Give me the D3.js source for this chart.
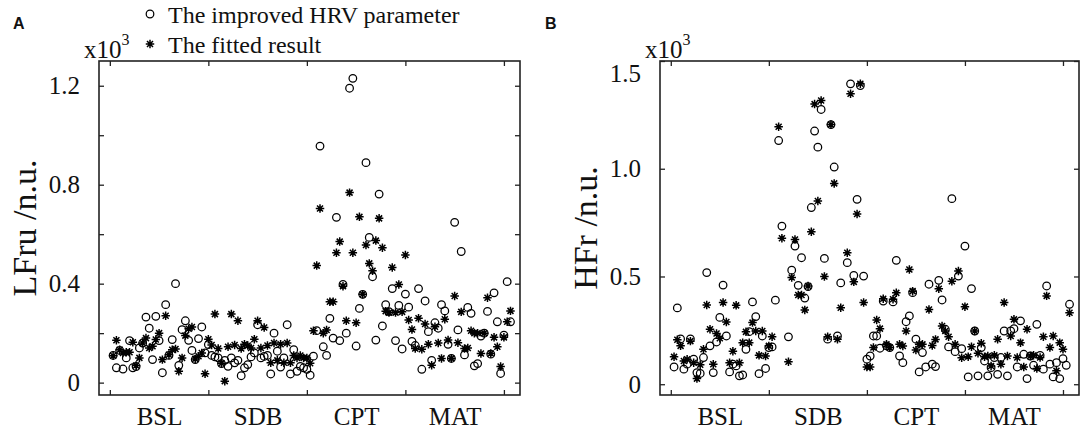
<!DOCTYPE html>
<html>
<head>
<meta charset="utf-8">
<script src="https://cdn.jsdelivr.net/npm/d3@7"></script>
<style>
  body { margin: 0; background: #fff; }
  svg { display: block; }
  text { font-family: "Liberation Serif", "Times New Roman", serif; fill: #111; }
</style>
</head>
<body>
<div id="chart"></div>
<script>
// groups along the x axis (30 samples each, last group a few more)
const groups = ["BSL", "SDB", "CPT", "MAT"];
const groupTicks = [1, 31, 61, 91, 121];
const groupCenters = [16, 46, 76, 106];

// panel A - LFru (x10^3)
const lfImproved = [
  null, 0.11, 0.06, 0.13, 0.055, 0.10, 0.17, 0.06, 0.065, 0.14, 0.16, 0.265, 0.22, 0.093, 0.268, 0.17, 0.04, 0.315, 0.11, 0.174, 0.40, 0.07, 0.214, 0.25, 0.171, 0.13, 0.093, 0.178, 0.225, 0.12,
  0.154, 0.11, 0.104, 0.10, 0.077, 0.09, 0.066, 0.10, 0.08, 0.09, 0.028, 0.06, 0.073, 0.104, 0.12, 0.234, 0.10, 0.106, 0.11, 0.035, 0.20, 0.127, 0.063, 0.10, 0.234, 0.035, 0.133, 0.046, 0.066, 0.06,
  0.054, 0.03, 0.107, 0.21, 0.956, 0.145, 0.11, 0.26, 0.18, 0.668, 0.17, 0.397, 0.20, 1.19, 1.23, 0.148, 0.30, 0.357, 0.889, 0.587, 0.428, 0.172, 0.762, 0.229, 0.315, 0.287, 0.38, 0.17, 0.312, 0.136,
  0.358, 0.305, 0.167, 0.15, 0.38, 0.054, 0.33, 0.206, 0.09, 0.242, 0.22, 0.315, 0.29, 0.155, 0.098, 0.648, 0.213, 0.53, 0.112, 0.304, 0.28, 0.068, 0.077, 0.188, 0.20, 0.288, 0.115, 0.363, 0.246, 0.037, 0.192, 0.408, 0.246
];
const lfFitted = [
  null, 0.109, 0.171, 0.133, 0.12, 0.123, 0.123, 0.163, 0.069, 0.10, 0.16, 0.18, 0.14, 0.147, 0.174, 0.20, 0.093, 0.27, 0.113, 0.133, 0.136, 0.046, 0.10, 0.19, 0.218, 0.225, 0.096, 0.107, 0.12, 0.036,
  0.175, 0.152, 0.277, 0.138, 0.078, 0.006, 0.145, 0.277, 0.152, 0.25, 0.138, 0.155, 0.15, 0.14, 0.175, 0.25, 0.14, 0.223, 0.15, 0.08, 0.16, 0.09, 0.155, 0.08, 0.16, 0.08, 0.11, 0.10, 0.11, 0.10,
  0.10, 0.078, 0.21, 0.473, 0.704, 0.20, 0.213, 0.327, 0.327, 0.525, 0.57, 0.39, 0.25, 0.768, 0.525, 0.242, 0.67, 0.357, 0.556, 0.482, 0.452, 0.574, 0.664, 0.545, 0.289, 0.283, 0.465, 0.283, 0.397, 0.286,
  0.516, 0.253, 0.215, 0.138, 0.26, 0.135, 0.237, 0.155, 0.07, 0.226, 0.16, 0.098, 0.256, 0.172, 0.098, 0.35, 0.161, 0.286, 0.138, 0.14, 0.21, 0.20, 0.20, 0.118, 0.20, 0.343, 0.118, 0.183, 0.145, 0.065, 0.183, 0.246, 0.29
];

// panel B - HFr (x10^3)
const hfImproved = [
  null, 0.08, 0.354, 0.21, 0.07, 0.093, 0.21, 0.116, 0.054, 0.05, 0.124, 0.518, 0.178, 0.054, 0.196, 0.31, 0.46, 0.224, 0.057, 0.093, 0.085, 0.039, 0.043, 0.162, 0.244, 0.382, 0.314, 0.049, 0.224, 0.073,
  0.17, 0.173, 0.39, 1.131, 0.734, null, 0.22, 0.529, 0.641, 0.459, 0.587, 0.40, 0.453, 0.82, 1.175, 1.10, 1.275, 0.584, 0.209, 1.205, 1.008, 0.224, 0.47, null, 0.564, 1.394, 0.505, 0.858, 1.386, 0.502,
  0.116, 0.131, 0.224, 0.224, 0.167, 0.386, 0.178, 0.17, 0.382, 0.575, 0.131, 0.10, 0.29, 0.317, 0.425, 0.209, 0.057, 0.147, 0.08, 0.464, 0.093, 0.082, 0.482, 0.391, 0.255, 0.173, 0.861, 0.151, 0.502, 0.165,
  0.641, 0.034, 0.444, 0.247, 0.039, 0.17, 0.108, 0.039, 0.077, 0.124, 0.046, 0.124, 0.247, 0.039, 0.247, 0.258, 0.08, 0.294, 0.139, 0.026, 0.131, 0.088, 0.278, 0.134, 0.07, 0.456, 0.093, 0.034, 0.10, 0.026, 0.119, 0.088, 0.371
];
const hfFitted = [
  null, 0.127, 0.206, 0.178, 0.108, 0.116, 0.20, 0.10, 0.026, 0.09, 0.162, 0.368, 0.255, 0.093, 0.235, 0.213, 0.379, 0.289, 0.10, 0.153, 0.366, 0.10, 0.193, 0.243, 0.193, 0.286, 0.247, 0.134, 0.247, 0.131,
  0.178, 0.22, null, 1.195, 0.677, null, 0.104, 0.495, 0.672, 0.414, 0.414, 0.345, 0.456, 0.708, 1.30, 0.85, 1.317, 0.50, 0.22, 1.205, 0.932, 0.209, 0.355, null, 0.61, 1.348, 0.475, 0.79, 1.394, 0.379,
  0.08, 0.08, 0.17, 0.298, 0.258, 0.397, 0.185, 0.17, 0.394, 0.424, 0.185, 0.177, 0.247, 0.532, 0.432, 0.159, 0.185, 0.185, null, 0.347, 0.18, 0.208, 0.443, 0.27, 0.247, 0.22, 0.478, 0.185, 0.525, 0.123,
  0.36, 0.128, 0.174, 0.247, 0.144, 0.19, 0.128, 0.131, 0.085, 0.134, 0.209, 0.093, 0.379, 0.131, 0.224, 0.301, 0.124, 0.193, 0.08, 0.255, 0.131, 0.134, 0.073, 0.124, 0.22, 0.41, 0.17, 0.224, 0.062, 0.193, 0.162, null, 0.332
];

const yTicksA = [0, 0.2, 0.4, 0.6, 0.8, 1.0, 1.2];
const yLabelsA = ["0", "", "0.4", "", "0.8", "", "1.2"];
const yTicksB = [0, 0.5, 1.0, 1.5];
const yLabelsB = ["0", "0.5", "1.0", "1.5"];

const legendItems = ["The improved HRV parameter", "The fitted result"];

const width = 1084;
const height = 431;
const plotTop = 61, plotBottom = 395;

const svg = d3.select("#chart")
  .append("svg")
  .attr("width", width)
  .attr("height", height);

// matlab style '*' marker: plus + cross
const asterisk = {
  draw(ctx, size) {
    const r = Math.sqrt(size) / 2;
    const d = r * Math.SQRT1_2;
    ctx.moveTo(-r, 0); ctx.lineTo(r, 0);
    ctx.moveTo(0, -r); ctx.lineTo(0, r);
    ctx.moveTo(-d, -d); ctx.lineTo(d, d);
    ctx.moveTo(-d, d); ctx.lineTo(d, -d);
  }
};
const starPath = d3.symbol().type(asterisk).size(72)();

function drawPanel(cfg) {
  const x = d3.scaleLinear().domain([-2.3, 125.9]).range([cfg.left, cfg.right]);
  const y = d3.scaleLinear().domain(cfg.yDomain).range([plotBottom, plotTop]);
  const g = svg.append("g");

  const fmt = d => cfg.yLabels[cfg.yTicks.indexOf(d)];

  // left axis with labels, ticks pointing inward
  const left = g.append("g")
    .attr("transform", `translate(${cfg.left},0)`)
    .call(d3.axisLeft(y).tickValues(cfg.yTicks).tickFormat(fmt).tickSizeInner(-5).tickSizeOuter(0).tickPadding(19));
  left.selectAll("text").attr("font-size", 25);
  if (cfg.topLabelShift) {
    left.selectAll(".tick").filter(d => d === cfg.yTicks[cfg.yTicks.length - 1])
      .select("text").attr("dy", cfg.topLabelShift);
  }

  g.append("g")
    .attr("transform", `translate(${cfg.right},0)`)
    .call(d3.axisRight(y).tickValues(cfg.yTicks).tickFormat("").tickSizeInner(-5).tickSizeOuter(0));

  g.append("g")
    .attr("transform", `translate(0,${plotBottom})`)
    .call(d3.axisBottom(x).tickValues(groupTicks).tickFormat("").tickSizeInner(-5).tickSizeOuter(0));

  g.append("g")
    .attr("transform", `translate(0,${plotTop})`)
    .call(d3.axisTop(x).tickValues(groupTicks).tickFormat("").tickSizeInner(-5).tickSizeOuter(0));

  // group names under the axis
  const cats = g.append("g")
    .attr("transform", `translate(0,${plotBottom})`)
    .call(d3.axisBottom(x).tickValues(groupCenters).tickFormat((d, i) => groups[i]).tickSize(0).tickPadding(12));
  cats.selectAll("text").attr("font-size", 25);

  g.selectAll(".domain").remove();
  g.selectAll(".tick line").attr("stroke", "#222").attr("stroke-width", 1.3);

  // box
  g.append("rect")
    .attr("x", cfg.left).attr("y", plotTop)
    .attr("width", cfg.right - cfg.left).attr("height", plotBottom - plotTop)
    .attr("fill", "none").attr("stroke", "#222").attr("stroke-width", 1.6);

  // markers
  const circ = cfg.improved.map((v, i) => ({ i: i + 1, v })).filter(d => d.v != null);
  const fit = cfg.fitted.map((v, i) => ({ i: i + 1, v })).filter(d => d.v != null);

  g.append("g").selectAll("circle").data(circ).enter()
    .append("circle")
    .attr("cx", d => x(d.i))
    .attr("cy", d => y(d.v))
    .attr("r", 3.8)
    .attr("fill", "none")
    .attr("stroke", "#000")
    .attr("stroke-width", 1.25);

  g.append("g").selectAll("path").data(fit).enter()
    .append("path")
    .attr("d", starPath)
    .attr("transform", d => `translate(${x(d.i)},${y(d.v)})`)
    .attr("fill", "none")
    .attr("stroke", "#000")
    .attr("stroke-width", 1.5);

  // x10^3 multiplier
  const mult = g.append("text")
    .attr("x", cfg.left - 15)
    .attr("y", plotTop - 3)
    .attr("font-size", 25);
  mult.append("tspan").text("x10");
  mult.append("tspan").attr("font-size", 16).attr("dy", -13).text("3");

  // y title
  g.append("text")
    .attr("transform", `translate(${cfg.left - 63},${(plotTop + plotBottom) / 2}) rotate(-90)`)
    .attr("text-anchor", "middle")
    .attr("font-size", 34)
    .text(cfg.title);

  // panel letter
  g.append("text")
    .attr("x", cfg.letterX)
    .attr("y", 29)
    .style("font-family", "'Liberation Sans', Arial, sans-serif")
    .style("font-weight", "bold")
    .attr("font-size", 16)
    .text(cfg.letter);
}

drawPanel({
  letter: "A", letterX: 13, left: 99, right: 520,
  yDomain: [-0.05, 1.3], yTicks: yTicksA, yLabels: yLabelsA,
  improved: lfImproved, fitted: lfFitted, title: "LFru /n.u."
});

drawPanel({
  letter: "B", letterX: 545, left: 660, right: 1079,
  yDomain: [-0.05, 1.5], yTicks: yTicksB, yLabels: yLabelsB, topLabelShift: "0.8em",
  improved: hfImproved, fitted: hfFitted, title: "HFr /n.u."
});

// legend at the top of panel A
const legend = svg.append("g");
legend.append("circle")
  .attr("cx", 150).attr("cy", 14).attr("r", 3.8)
  .attr("fill", "none").attr("stroke", "#000").attr("stroke-width", 1.25);
legend.append("path")
  .attr("d", starPath)
  .attr("transform", "translate(150,44)")
  .attr("fill", "none").attr("stroke", "#000").attr("stroke-width", 1.5);
legendItems.forEach((t, i) => {
  legend.append("text")
    .attr("x", 168)
    .attr("y", 23 + i * 30)
    .attr("font-size", 24)
    .text(t);
});
</script>
</body>
</html>
